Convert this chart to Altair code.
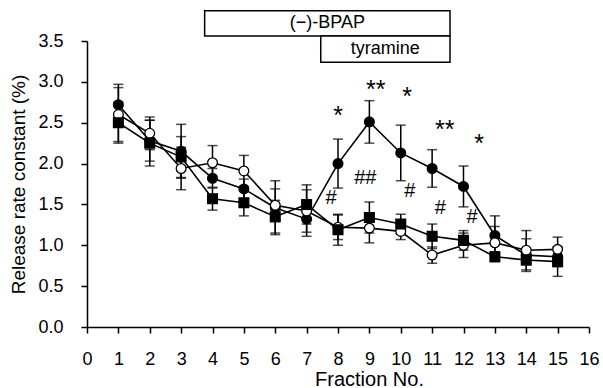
import altair as alt
import pandas as pd

fractions = list(range(1, 16))

# filled circles: (-)-BPAP + tyramine
fc_vals = [2.72, 2.28, 2.15, 1.82, 1.69, 1.46, 1.32, 2.00, 2.51, 2.13, 1.94, 1.72, 1.12, 0.88, 0.86]
fc_errs = [0.25, 0.25, 0.33, 0.12, 0.12, 0.33, 0.21, 0.30, 0.26, 0.34, 0.23, 0.25, 0.24, 0.20, 0.12]
# open circles
oc_vals = [2.60, 2.37, 1.94, 2.01, 1.91, 1.49, 1.42, 1.22, 1.21, 1.17, 0.88, 1.00, 1.03, 0.94, 0.95]
oc_errs = [0.33, 0.20, 0.26, 0.21, 0.19, 0.20, 0.26, 0.15, 0.18, 0.10, 0.10, 0.15, 0.20, 0.24, 0.15]
# filled squares
sq_vals = [2.50, 2.25, 2.08, 1.57, 1.52, 1.35, 1.50, 1.19, 1.34, 1.26, 1.11, 1.06, 0.86, 0.82, 0.80]
sq_errs = [0.25, 0.28, 0.25, 0.14, 0.16, 0.20, 0.24, 0.19, 0.19, 0.12, 0.15, 0.12, 0.06, 0.06, 0.18]

series_names = ["BPAP+tyramine", "open", "square"]

star_x = [8.0, 9.2, 10.2, 11.4, 12.5]
star_y = [2.64, 2.96, 2.87, 2.47, 2.30]
star_txt = ["*", "**", "*", "**", "*"]

hash_x = [7.78, 8.87, 10.29, 11.26, 12.27]
hash_y = [1.58, 1.82, 1.67, 1.46, 1.35]
hash_txt = ["#", "##", "#", "#", "#"]

box_labels = ["(\u2212)-BPAP", "tyramine"]
box_x1 = [3.75, 7.45]
box_x2 = [11.57, 11.57]
box_y1 = [3.56, 3.24]
box_y2 = [3.87, 3.56]

x_ticks = list(range(17))
y_ticks = [0, 0.5, 1, 1.5, 2, 2.5, 3, 3.5]

rows = []
for name, vals, errs in zip(series_names, [fc_vals, oc_vals, sq_vals], [fc_errs, oc_errs, sq_errs]):
    for f, v, e in zip(fractions, vals, errs):
        rows.append(dict(fraction=f, value=v, lo=v - e, hi=v + e, series=name))
df = pd.DataFrame(rows)

marks_df = pd.DataFrame({"x": star_x + hash_x, "y": star_y + hash_y, "t": star_txt + hash_txt,
                         "kind": ["star"] * 5 + ["hash"] * 5})
box_df = pd.DataFrame({"x1": box_x1, "x2": box_x2, "y1": box_y1, "y2": box_y2, "label": box_labels})
box_df["xc"] = (box_df["x1"] + box_df["x2"]) / 2
box_df["yc"] = (box_df["y1"] + box_df["y2"]) / 2

FONT = "Liberation Sans"

xscale = alt.Scale(domain=[0, 16], nice=False, zero=False)
yscale = alt.Scale(domain=[0, 3.5], nice=False)

xaxis = alt.Axis(values=x_ticks, title="Fraction No.", grid=False,
                 labelFontSize=18, labelPadding=17, tickSize=6,
                 labelOverlap=False, labelFlush=False, labelBound=False,
                 titleFontSize=20, titleX=282, titleY=58, titleBaseline="alphabetic",
                 titleAlign="center")
yaxis = alt.Axis(values=y_ticks, format=".1f",
                 title="Release rate constant (%)", grid=False,
                 labelFontSize=18, labelPadding=18, tickSize=6,
                 labelOverlap=False, labelFlush=False,
                 titleFontSize=19, titleX=-69, titleY=143, titleAngle=-90,
                 titleAlign="center", titleBaseline="middle")


def xq(f):
    return alt.X(f, scale=xscale, axis=xaxis, title="Fraction No.")


def yq(f):
    return alt.Y(f, scale=yscale, axis=yaxis, title="Release rate constant (%)")


base = alt.Chart(df)

err_rule = base.mark_rule(color="black", strokeWidth=1.5).encode(
    x=xq("fraction:Q"), y=yq("lo:Q"), y2="hi:Q")
err_top = base.mark_tick(color="black", orient="horizontal", size=10, thickness=1.5).encode(
    x=xq("fraction:Q"), y=yq("hi:Q"))
err_bot = base.mark_tick(color="black", orient="horizontal", size=10, thickness=1.5).encode(
    x=xq("fraction:Q"), y=yq("lo:Q"))

lines = base.mark_line(color="black", strokeWidth=1.6).encode(
    x=xq("fraction:Q"), y=yq("value:Q"), detail="series:N")

points = base.mark_point(filled=True, stroke="black", strokeWidth=1.3, opacity=1, size=95).encode(
    x=xq("fraction:Q"), y=yq("value:Q"),
    shape=alt.Shape("series:N", scale=alt.Scale(domain=series_names, range=["circle", "circle", "square"]), legend=None),
    fill=alt.Fill("series:N", scale=alt.Scale(domain=series_names, range=["black", "white", "black"]), legend=None),
)

stars = alt.Chart(marks_df).transform_filter(alt.datum.kind == "star").mark_text(
    font=FONT, fontSize=25, color="black", baseline="middle", align="center", dy=5).encode(
    x=xq("x:Q"), y=yq("y:Q"), text="t:N")
hashes = alt.Chart(marks_df).transform_filter(alt.datum.kind == "hash").mark_text(
    font=FONT, fontSize=20, color="black", baseline="middle", align="center").encode(
    x=xq("x:Q"), y=yq("y:Q"), text="t:N")

boxes = alt.Chart(box_df).mark_rect(fill="white", stroke="black", strokeWidth=1.5, clip=False).encode(
    x=xq("x1:Q"), x2="x2:Q", y=yq("y1:Q"), y2="y2:Q")
box_text = alt.Chart(box_df).mark_text(font=FONT, fontSize=18, color="black", baseline="middle",
                                       align="center", clip=False).encode(
    x=xq("xc:Q"), y=yq("yc:Q"), text="label:N")

chart = alt.layer(err_rule, err_top, err_bot, lines, points, stars, hashes, boxes, box_text).properties(
    width=502, height=286,
    autosize=alt.AutoSizeParams(type="none"),
    padding={"left": 87, "top": 41, "right": 14, "bottom": 61},
    background="white",
).configure_view(stroke=None).configure_axis(
    domainColor="black", domainWidth=1.5, tickColor="black", tickWidth=1.5,
    labelColor="black", titleColor="black", labelFont=FONT, titleFont=FONT,
    titleFontWeight="normal",
)

chart.save("out.html", embed_options={"renderer": "svg", "actions": False})
